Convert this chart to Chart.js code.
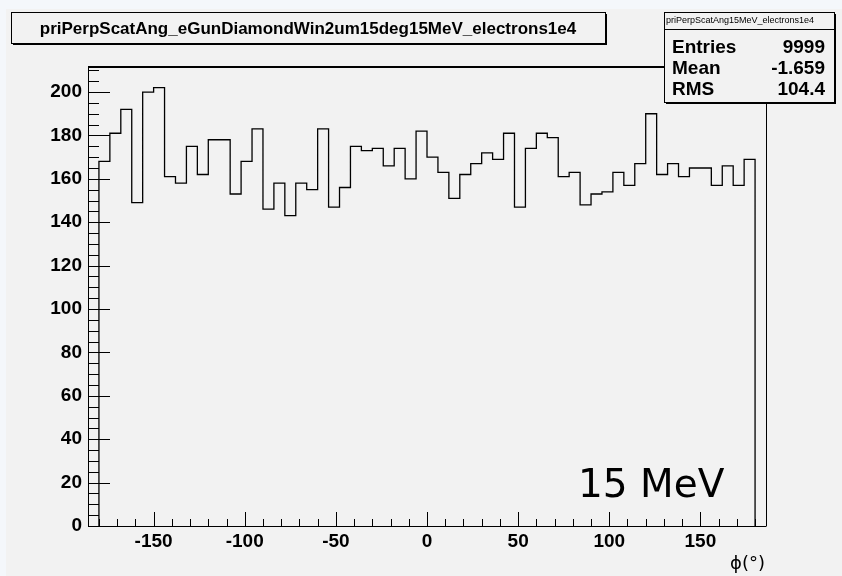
<!DOCTYPE html>
<html>
<head>
<meta charset="utf-8">
<title>priPerpScatAng 15 MeV</title>
<script src="https://cdn.jsdelivr.net/npm/chart.js@4.4.1/dist/chart.umd.min.js"></script>
<style>
  html, body { margin: 0; padding: 0; background: #f4f7fb; }
  #wrap { position: relative; width: 842px; height: 576px; }
</style>
</head>
<body>
<div id="wrap"><canvas id="histo" width="842" height="576"></canvas></div>
<script>
// histogram contents: 60 bins of 6 degrees from -180 to 180
const histTitle = 'priPerpScatAng_eGunDiamondWin2um15deg15MeV_electrons1e4';
const statsName = 'priPerpScatAng15MeV_electrons1e4';
const statLabels = ['Entries', 'Mean', 'RMS'];
const statValues = ['9999', '-1.659', '104.4'];
const energyLabel = '15 MeV';
const axisTitle = '\u03d5(\u00b0)';

const binLow = -180;
const binWidth = 6;
const counts = [
  168, 181, 192, 149, 200, 202, 161, 158, 175, 162,
  178, 178, 153, 168, 183, 146, 158, 143, 158, 155,
  183, 147, 156, 175, 173, 174, 166, 174, 160, 182,
  170, 163, 151, 162, 167, 172, 169, 181, 147, 174,
  181, 179, 161, 163, 148, 153, 154, 163, 157, 167,
  190, 162, 167, 161, 165, 165, 157, 166, 157, 169
];

const xRange = [-186, 186];
const yRange = [0, 212];
const xTicks = [-150, -100, -50, 0, 50, 100, 150];
const yTicks = [0, 20, 40, 60, 80, 100, 120, 140, 160, 180, 200];

const FONT = "'Liberation Sans', Arial, Helvetica, sans-serif";

// outline points for a stepped line: up from zero at the low edge,
// one point per bin left edge, back down to zero at the high edge
const outline = [{ x: binLow, y: 0 }];
counts.forEach((c, i) => outline.push({ x: binLow + i * binWidth, y: c }));
outline.push({ x: binLow + counts.length * binWidth, y: 0 });

function line(ctx, x1, y1, x2, y2) {
  ctx.beginPath();
  ctx.moveTo(x1, y1);
  ctx.lineTo(x2, y2);
  ctx.stroke();
}

// ROOT-style box with a dark drop shadow on the bottom and right
function shadowBox(ctx, x, y, w, h) {
  ctx.fillStyle = '#000';
  ctx.fillRect(x + 2, y + h, w, 2);
  ctx.fillRect(x + w, y + 2, 2, h);
  ctx.strokeStyle = '#000';
  ctx.lineWidth = 1;
  ctx.strokeRect(x + 0.5, y + 0.5, w, h);
}

const rootFrame = {
  id: 'rootFrame',
  beforeDraw(chart) {
    const ctx = chart.ctx;
    ctx.save();
    ctx.fillStyle = '#f4f7fb';
    ctx.fillRect(0, 0, chart.width, chart.height);
    ctx.fillStyle = '#f2f2f2';
    ctx.fillRect(6, 9, chart.width - 6, chart.height - 9);
    ctx.restore();
  },
  afterDatasetsDraw(chart) {
    const ctx = chart.ctx;
    const a = chart.chartArea;
    const xs = chart.scales.x;
    const ys = chart.scales.y;
    ctx.save();
    ctx.strokeStyle = '#000';
    ctx.lineWidth = 1;

    // y ticks point into the frame: major every 20, minor every 5
    for (let v = yRange[0]; v <= yRange[1]; v += 5) {
      const py = Math.round(ys.getPixelForValue(v)) + 0.5;
      line(ctx, a.left, py, a.left + (v % 20 === 0 ? 22 : 11), py);
    }
    // x ticks: major every 50, minor every 10
    for (let v = -180; v <= 180; v += 10) {
      const px = Math.round(xs.getPixelForValue(v)) + 0.5;
      line(ctx, px, a.bottom, px, a.bottom - (v % 50 === 0 ? 14 : 7));
    }

    // frame
    line(ctx, a.left + 0.5, a.top, a.left + 0.5, a.bottom + 0.5);
    line(ctx, a.left, a.bottom + 0.5, a.right, a.bottom + 0.5);
    line(ctx, a.right + 0.5, a.top, a.right + 0.5, a.bottom + 0.5);
    ctx.lineWidth = 2;
    line(ctx, a.left, a.top + 1, a.right + 1, a.top + 1);
    ctx.restore();
  },
  afterDraw(chart) {
    const ctx = chart.ctx;
    const a = chart.chartArea;
    ctx.save();

    // title pave
    shadowBox(ctx, 11, 12, 594, 31);
    ctx.fillStyle = '#000';
    ctx.font = 'bold 17px ' + FONT;
    ctx.textAlign = 'center';
    ctx.textBaseline = 'middle';
    ctx.fillText(histTitle, 308, 29);

    // statistics box
    ctx.fillStyle = '#f2f2f2';
    ctx.fillRect(664, 12, 170, 90);
    shadowBox(ctx, 664, 12, 170, 90);
    line(ctx, 664, 29.5, 834, 29.5);
    ctx.fillStyle = '#000';
    ctx.font = '9px ' + FONT;
    ctx.textAlign = 'center';
    ctx.fillText(statsName, 740, 21);
    ctx.font = 'bold 19px ' + FONT;
    const rowY = [48, 69, 90];
    statLabels.forEach((lab, i) => {
      ctx.textAlign = 'left';
      ctx.fillText(lab, 672, rowY[i]);
      ctx.textAlign = 'right';
      ctx.fillText(statValues[i], 825, rowY[i]);
    });

    // energy label inside the frame
    ctx.font = "39px 'Comic Sans MS', 'DejaVu Sans', sans-serif";
    ctx.textAlign = 'left';
    ctx.textBaseline = 'alphabetic';
    ctx.fillText(energyLabel, 578, 497);

    // x axis title, right aligned to the frame
    ctx.font = "18px 'DejaVu Sans', " + FONT;
    ctx.textAlign = 'right';
    ctx.textBaseline = 'middle';
    ctx.fillText(axisTitle, a.right - 1, 564);
    ctx.restore();
  }
};

const chart = new Chart(document.getElementById('histo').getContext('2d'), {
  type: 'scatter',
  data: {
    datasets: [{
      data: outline,
      showLine: true,
      stepped: true,
      fill: false,
      borderColor: '#000',
      borderWidth: 1.3,
      pointRadius: 0,
      pointHoverRadius: 0
    }]
  },
  options: {
    responsive: false,
    devicePixelRatio: 1,
    animation: false,
    events: [],
    layout: { padding: { top: 66, right: 76, left: 0, bottom: 0 } },
    plugins: {
      legend: { display: false },
      tooltip: { enabled: false },
      title: { display: false }
    },
    scales: {
      x: {
        type: 'linear',
        position: 'bottom',
        min: xRange[0],
        max: xRange[1],
        grid: { display: false, drawTicks: false },
        border: { display: false },
        afterBuildTicks: s => { s.ticks = xTicks.map(v => ({ value: v })); },
        afterFit: s => { s.height = 50; },
        ticks: {
          color: '#000',
          font: { family: FONT, size: 19, weight: 'bold' },
          padding: 4,
          maxRotation: 0,
          autoSkip: false
        }
      },
      y: {
        type: 'linear',
        position: 'left',
        min: yRange[0],
        max: yRange[1],
        grid: { display: false, drawTicks: false },
        border: { display: false },
        afterBuildTicks: s => { s.ticks = yTicks.map(v => ({ value: v })); },
        afterFit: s => { s.width = 88; },
        ticks: {
          color: '#000',
          font: { family: FONT, size: 19, weight: 'bold' },
          padding: 6,
          autoSkip: false
        }
      }
    }
  },
  plugins: [rootFrame]
});
</script>
</body>
</html>
